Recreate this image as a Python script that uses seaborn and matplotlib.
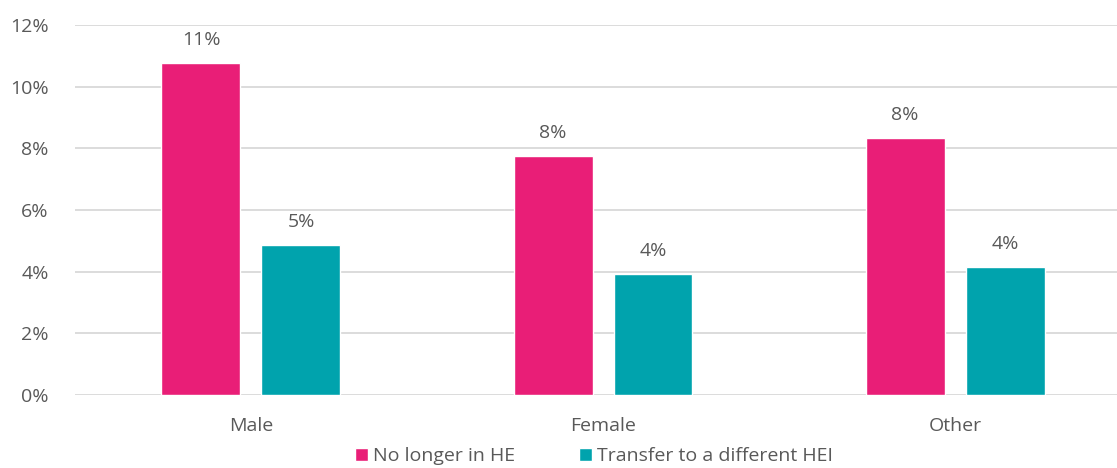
import pandas as pd
import numpy as np
import matplotlib.pyplot as plt
import seaborn as sns
from matplotlib.ticker import PercentFormatter

# Data
genders = ['Male', 'Female', 'Other']
series = ['No longer in HE', 'Transfer to a different HEI']
no_longer_in_he = [10.78, 7.75, 8.33]
transfer_hei = [4.86, 3.92, 4.14]
colors = ['#E91E77', '#00A3AD']

df = pd.DataFrame({
    'gender': genders * 2,
    'outcome': [series[0]] * 3 + [series[1]] * 3,
    'pct': no_longer_in_he + transfer_hei,
})

sns.set_style('white')
plt.rcParams['font.family'] = ['Open Sans', 'DejaVu Sans']
text_col = '#595959'

fig = plt.figure(figsize=(11.17, 4.68), dpi=100)
ax = fig.add_axes([0.0671, 0.156, 0.9329, 0.7906])

sns.barplot(data=df, x='gender', y='pct', hue='outcome', order=genders,
            hue_order=series, palette=colors, width=0.568, gap=0.21,
            saturation=1, ax=ax)

# Data labels
for cont in ax.containers:
    ax.bar_label(cont, labels=[f'{v:.0f}%' for v in cont.datavalues],
                 padding=10, fontsize=14, color=text_col)

ax.set_ylim(0, 12)
ax.set_yticks(np.arange(0, 13, 2))
ax.yaxis.set_major_formatter(PercentFormatter(decimals=0))
ax.set_xlim(-0.5, 2.46)
ax.grid(axis='y', color='#D9D9D9', linewidth=1.3)
ax.set_axisbelow(True)
for s in ax.spines.values():
    s.set_visible(False)
ax.tick_params(axis='both', length=0, labelsize=14, labelcolor=text_col)
ax.tick_params(axis='y', pad=19)
ax.tick_params(axis='x', pad=16)
ax.set_xlabel('')
ax.set_ylabel('')

ax.legend(loc='lower center', bbox_to_anchor=(0.498, -0.19),
          ncol=2, frameon=False, fontsize=14, labelcolor=text_col,
          handlelength=0.65, handleheight=0.65, handletextpad=0.25,
          columnspacing=3.3, borderaxespad=0, borderpad=0)

fig.savefig('out.png', dpi=100)
